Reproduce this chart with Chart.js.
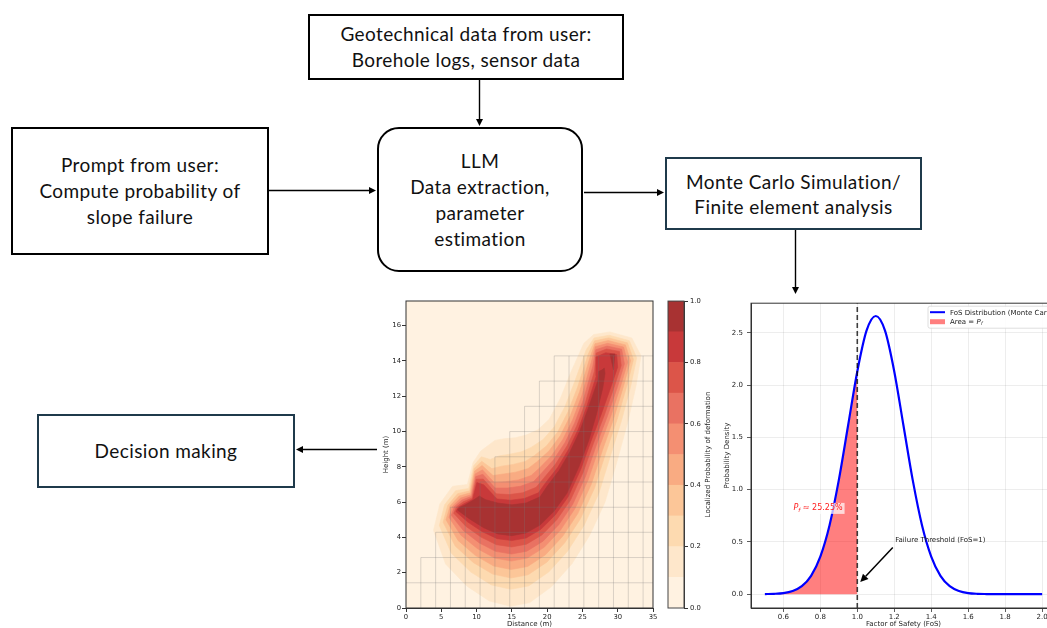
<!DOCTYPE html>
<html>
<head>
<meta charset="utf-8">
<script src="https://cdn.jsdelivr.net/npm/chart.js@4.4.0/dist/chart.umd.min.js"></script>
<style>
  html, body { margin: 0; padding: 0; background: #fff; }
  body { width: 1047px; height: 628px; overflow: hidden; position: relative; font-family: Lato, "Open Sans", sans-serif; }
  .box { position: absolute; box-sizing: border-box; border: 2px solid #000; display: flex; align-items: center; justify-content: center; text-align: center; font-size: 19px; letter-spacing: 0.4px; line-height: 26px; color: #111; }
  .dark { border-color: #1f3a4b; }
  .round { border-radius: 22px; }
  canvas.plot { position: absolute; }
  #arrows { position: absolute; left: 0; top: 0; pointer-events: none; }
</style>
</head>
<body>

<div class="box" style="left:308px;top:14px;width:316px;height:66px">Geotechnical data from user:<br>Borehole logs, sensor data</div>
<div class="box" style="left:11px;top:127px;width:258px;height:128px">Prompt from user:<br>Compute probability of<br>slope failure</div>
<div class="box round" style="left:377px;top:127px;width:206px;height:145px">LLM<br>Data extraction,<br>parameter<br>estimation</div>
<div class="box dark" style="left:665px;top:157px;width:257px;height:73px;line-height:25px">Monte Carlo Simulation/<br>Finite element analysis</div>
<div class="box dark" style="left:37px;top:414px;width:258px;height:74px">Decision making</div>

<canvas id="contour" class="plot" width="290" height="333" style="left:370px;top:295px"></canvas>
<canvas id="cbar" class="plot" width="60" height="333" style="left:660px;top:295px"></canvas>
<canvas id="fos" class="plot" width="345" height="333" style="left:720px;top:295px"></canvas>
<canvas id="arrows" width="1047" height="628"></canvas>

<script>
// ---- FoS distribution (right plot) ----
const fosX = [0.50, 0.55, 0.60, 0.65, 0.70, 0.75, 0.80, 0.85, 0.90, 0.95, 1.00, 1.05, 1.10, 1.15, 1.20, 1.25,
              1.30, 1.35, 1.40, 1.45, 1.50, 1.55, 1.60, 1.65, 1.70, 1.75, 1.80, 1.85, 1.90, 1.95, 2.00];
const fosDensity = [0.001, 0.003, 0.010, 0.030, 0.076, 0.175, 0.36, 0.66, 1.09, 1.61, 2.13, 2.52, 2.66, 2.52, 2.13, 1.61,
                    1.09, 0.66, 0.36, 0.175, 0.076, 0.030, 0.010, 0.003, 0.001, 0, 0, 0, 0, 0, 0];
const failureFoS = 1.0;
const probFailure = 25.25;
const fosXTicks = [0.6, 0.8, 1.0, 1.2, 1.4, 1.6, 1.8, 2.0];
const fosYTicks = [0, 0.5, 1.0, 1.5, 2.0, 2.5];

// ---- deformation contour (left plot), polygons [distance, height] ----
const distTicks = [0, 5, 10, 15, 20, 25, 30, 35];
const heightTicks = [0, 2, 4, 6, 8, 10, 12, 14, 16];
const levels = [0, 0.1, 0.2, 0.3, 0.4, 0.5, 0.6, 0.7, 0.8, 0.9, 1.0];
const cbarTicks = [0, 0.2, 0.4, 0.6, 0.8, 1.0];

const contourLevel1 = [[3.9,4.4],[5.6,2.5],[8.6,1.25],[11.8,0.4],[14.8,0.1],[17.5,0.3],[20.6,1.2],[23.5,2.5],[26,4.1],[28.2,6.0],[29.9,8.3],[31.4,10.5],[32.6,12.6],[33.3,14.3],[32.0,15.3],[28.9,15.65],[26.6,15.5],[25.2,15.0],[23.3,13.3],[21.9,11.9],[20.3,10.7],[18.7,10.1],[17.0,9.8],[15.5,9.65],[14.0,9.6],[12.6,9.5],[11.6,9.2],[10.6,8.9],[9.5,8.25],[8.7,7.0],[6.6,6.9],[4.8,5.9]];
const contourLevel2 = [[4.72,4.68],[6.42,3.11],[9.18,2.04],[12.09,1.31],[14.85,1.06],[17.38,1.25],[20.22,2.04],[22.9,3.22],[25.23,4.68],[27.31,6.48],[28.94,8.59],[30.52,10.6],[31.85,12.58],[32.69,14.18],[31.65,15.15],[28.8,15.46],[26.66,15.31],[25.54,14.64],[23.9,12.82],[22.55,11.44],[21.02,10.27],[19.42,9.55],[17.72,9.1],[16.34,8.85],[14.72,8.72],[13.18,8.62],[11.94,8.42],[10.67,8.57],[9.59,8.06],[8.89,6.78],[7.03,6.65],[5.47,5.85]];
const contourLevel3 = [[5.26,4.86],[6.96,3.52],[9.56,2.57],[12.28,1.92],[14.88,1.7],[17.3,1.88],[19.96,2.6],[22.5,3.7],[24.72,5.06],[26.72,6.8],[28.3,8.78],[29.9,10.67],[31.28,12.57],[32.23,14.09],[31.38,15.03],[28.72,15.31],[26.72,15.14],[25.8,14.37],[24.3,12.5],[22.98,11.14],[21.5,9.98],[19.9,9.18],[18.2,8.64],[16.9,8.31],[15.2,8.14],[13.56,8.04],[12.16,7.9],[10.73,8.32],[9.66,7.91],[9.02,6.64],[7.32,6.48],[5.92,5.82]];
const contourLevel4 = [[5.67,5.0],[7.37,3.83],[9.85,2.97],[12.42,2.38],[14.9,2.18],[17.24,2.35],[19.77,3.02],[22.2,4.06],[24.34,5.35],[26.28,7.04],[27.82,8.92],[29.42,10.73],[30.81,12.56],[31.82,14.01],[31.1,14.91],[28.65,15.16],[26.78,14.98],[26.02,14.14],[24.6,12.26],[23.3,10.91],[21.86,9.76],[20.26,8.9],[18.56,8.29],[17.32,7.91],[15.56,7.7],[13.85,7.6],[12.33,7.51],[10.78,8.08],[9.73,7.76],[9.12,6.53],[7.54,6.35],[6.26,5.8]];
const contourLevel5 = [[6.08,5.14],[7.78,4.13],[10.14,3.36],[12.57,2.83],[14.93,2.66],[17.18,2.83],[19.58,3.44],[21.9,4.42],[23.95,5.64],[25.83,7.28],[27.34,9.07],[28.94,10.78],[30.39,12.55],[31.41,13.93],[30.83,14.79],[28.57,15.0],[26.83,14.81],[26.24,13.91],[24.9,12.02],[23.63,10.68],[22.22,9.55],[20.62,8.63],[18.92,7.94],[17.74,7.51],[15.92,7.26],[14.14,7.16],[12.5,7.12],[10.83,7.83],[9.81,7.6],[9.21,6.42],[7.75,6.23],[6.59,5.77]];
const contourLevel6 = [[6.42,5.25],[8.12,4.39],[10.38,3.69],[12.69,3.21],[14.95,3.06],[17.13,3.22],[19.42,3.79],[21.65,4.72],[23.63,5.88],[25.46,7.48],[26.94,9.19],[28.5,10.83],[29.97,12.54],[30.95,13.84],[30.56,14.67],[28.49,14.85],[26.89,14.64],[26.46,13.68],[25.15,11.82],[23.9,10.49],[22.52,9.37],[20.92,8.4],[19.22,7.65],[18.09,7.17],[16.22,6.9],[14.38,6.8],[12.64,6.8],[10.89,7.58],[9.88,7.45],[9.29,6.33],[7.93,6.12],[6.87,5.75]];
const contourLevel7 = [[6.76,5.37],[8.46,4.64],[10.62,4.02],[12.81,3.59],[14.97,3.46],[17.08,3.62],[19.26,4.14],[21.4,5.02],[23.31,6.12],[25.09,7.68],[26.54,9.31],[28.06,10.88],[29.5,12.53],[30.5,13.75],[30.25,14.54],[28.41,14.68],[26.95,14.45],[26.7,13.43],[25.4,11.62],[24.17,10.3],[22.82,9.19],[21.22,8.17],[19.52,7.36],[18.44,6.84],[16.52,6.53],[14.62,6.43],[12.78,6.47],[10.95,7.31],[9.95,7.3],[9.37,6.24],[8.11,6.02],[7.15,5.73]];
const contourLevel8 = [[7.06,5.47],[8.76,4.87],[10.83,4.32],[12.92,3.93],[14.99,3.82],[17.04,3.97],[19.11,4.46],[21.18,5.29],[23.02,6.33],[24.76,7.86],[26.18,9.42],[27.62,10.93],[29.03,12.52],[29.99,13.65],[29.86,14.37],[28.3,14.47],[27.02,14.24],[26.96,13.15],[25.63,11.44],[24.41,10.13],[23.09,9.03],[21.49,7.96],[19.79,7.1],[18.76,6.53],[16.79,6.21],[14.83,6.11],[12.9,6.18],[11.02,6.98],[10.04,7.11],[9.44,6.16],[8.27,5.92],[7.4,5.71]];
const contourLevel9 = [[7.3,5.55],[9,5.05],[11,4.55],[13,4.2],[15,4.1],[17,4.25],[19,4.7],[21,5.5],[22.8,6.5],[24.5,8.0],[25.9,9.5],[27.0,11.0],[27.9,12.5],[28.2,13.3],[28.1,13.6],[27.8,13.5],[27.3,13.4],[27.2,12.9],[25.8,11.3],[24.6,10.0],[23.3,8.9],[21.7,7.8],[20.0,6.9],[19,6.3],[17,5.95],[15,5.85],[13,5.95],[11.2,6.15],[10.4,6.35],[9.5,6.1],[8.4,5.85],[7.6,5.7]];
const contourSpot9 = [[28.9,14.4],[29.6,14.4],[29.4,13.5]];

// slope mesh: vertical lines [x, top], horizontal lines [y, start x]
const meshVertical = [[2.1,2.86],[4.2,4.29],[6.3,5.71],[8.4,5.71],[10.5,7.14],[12.6,8.57],[14.7,10],[16.8,11.43],[18.9,12.86],[21,14.29],[23.1,14.29],[25.2,14.29],[27.3,14.29],[29.4,14.29],[31.5,14.29],[33.6,14.29]];
const meshHorizontal = [[1.43,0],[2.86,2.1],[4.29,4.2],[5.71,6.3],[7.14,10.5],[8.57,12.6],[10,14.7],[11.43,16.8],[12.86,18.9],[14.29,21]];

const bandColors = ['#fff2e1', '#fee7cb', '#fddab0', '#fcc698', '#f9ab82', '#f48f72', '#e97262', '#dc5549', '#c8393a', '#a83232'];

const tickFont = { family: 'DejaVu Sans', size: 6.8 };
const titleFont = { family: 'DejaVu Sans', size: 7 };
const fixTicks = arr => scale => { scale.ticks = arr.map(v => ({ value: v })); };

function frame(color) {
  return {
    id: 'frame',
    afterDatasetsDraw(chart) {
      const { ctx, chartArea: a } = chart;
      ctx.save();
      ctx.strokeStyle = color;
      ctx.lineWidth = 1;
      ctx.strokeRect(a.left, a.top, a.right - a.left, a.bottom - a.top);
      ctx.restore();
    }
  };
}

// ---------- contour chart ----------
const closeRing = pts => pts.concat([pts[0]]).map(p => ({ x: p[0], y: p[1] }));
const contourLevels = [contourLevel1, contourLevel2, contourLevel3, contourLevel4, contourLevel5,
                       contourLevel6, contourLevel7, contourLevel8, contourLevel9];

const polyDatasets = contourLevels.map((pts, i) => ({
  data: closeRing(pts),
  showLine: true, fill: 'shape', tension: 0,
  backgroundColor: bandColors[i + 1], borderColor: bandColors[i + 1], borderWidth: 0.6,
  pointRadius: 0, order: 30 - i
}));
polyDatasets.push({
  data: closeRing(contourSpot9), showLine: true, fill: 'shape', tension: 0,
  backgroundColor: bandColors[9], borderColor: bandColors[9], borderWidth: 0.6, pointRadius: 0, order: 10
});

const meshData = [];
meshVertical.forEach(([x, top]) => { meshData.push({ x, y: 0 }, { x, y: top }, { x, y: null }); });
meshHorizontal.forEach(([y, x0]) => { meshData.push({ x: x0, y }, { x: 35, y }, { x: 35, y: null }); });

const contourBg = {
  id: 'contourBg',
  beforeDatasetsDraw(chart) {
    const { ctx, chartArea: a } = chart;
    ctx.save();
    ctx.fillStyle = bandColors[0];
    ctx.fillRect(a.left, a.top, a.right - a.left, a.bottom - a.top);
    ctx.restore();
  }
};

new Chart(document.getElementById('contour'), {
  type: 'scatter',
  data: {
    datasets: polyDatasets.concat([{
      data: meshData, showLine: true, spanGaps: false, fill: false,
      borderColor: 'rgba(120,120,120,0.35)', borderWidth: 0.8, pointRadius: 0, order: 1
    }])
  },
  options: {
    responsive: false, animation: false, events: [],
    layout: { padding: { top: 6, right: 7, left: 0, bottom: 0 } },
    plugins: { legend: { display: false }, tooltip: { enabled: false } },
    scales: {
      x: {
        type: 'linear', min: 0, max: 35,
        afterBuildTicks: fixTicks(distTicks),
        afterFit: s => { s.height = 20; },
        grid: { drawOnChartArea: false, tickLength: 4, tickColor: '#333' },
        border: { color: '#333' },
        ticks: { font: tickFont, color: '#222', padding: 1, maxRotation: 0, autoSkip: false, callback: v => String(v) },
        title: { display: true, text: 'Distance (m)', font: titleFont, color: '#222', padding: { top: 0, bottom: 0 } }
      },
      y: {
        type: 'linear', min: 0, max: 17.4,
        afterBuildTicks: fixTicks(heightTicks),
        afterFit: s => { s.width = 36; },
        grid: { drawOnChartArea: false, tickLength: 4, tickColor: '#333' },
        border: { color: '#333' },
        ticks: { font: tickFont, color: '#222', padding: 1, autoSkip: false, callback: v => String(v) },
        title: { display: true, text: 'Height (m)', font: titleFont, color: '#222', padding: { top: 11.5, bottom: 0 } }
      }
    }
  },
  plugins: [contourBg, frame('#333')]
});

// ---------- colour bar ----------
const cbarTitle = {
  id: 'cbarTitle',
  afterDraw(chart) {
    const { ctx, chartArea: a } = chart;
    ctx.save();
    ctx.translate(a.right + 24, (a.top + a.bottom) / 2);
    ctx.rotate(-Math.PI / 2);
    ctx.font = '7px "DejaVu Sans"';
    ctx.fillStyle = '#222';
    ctx.textAlign = 'center';
    ctx.textBaseline = 'middle';
    ctx.fillText('Localized Probability of deformation', 0, 0);
    ctx.restore();
  }
};

new Chart(document.getElementById('cbar'), {
  type: 'bar',
  data: {
    labels: ['p'],
    datasets: levels.slice(0, -1).map((lv, i) => ({
      data: [[lv, levels[i + 1]]],
      backgroundColor: bandColors[i], borderWidth: 0,
      barPercentage: 1, categoryPercentage: 1, grouped: false
    }))
  },
  options: {
    responsive: false, animation: false, events: [],
    layout: { padding: { top: 6, left: 8, right: 0, bottom: 20 } },
    plugins: { legend: { display: false }, tooltip: { enabled: false } },
    scales: {
      x: { display: false },
      y: {
        position: 'right', min: 0, max: 1,
        afterBuildTicks: fixTicks(cbarTicks),
        afterFit: s => { s.width = 36; },
        grid: { drawOnChartArea: false, tickLength: 4, tickColor: '#333' },
        border: { color: '#333' },
        ticks: { font: tickFont, color: '#222', padding: 2, callback: v => v.toFixed(1) },
        title: { display: false }
      }
    }
  },
  plugins: [frame('#444'), cbarTitle]
});

// ---------- FoS distribution ----------
const curvePts = fosX.map((x, i) => ({ x, y: fosDensity[i] }));
const areaPts = curvePts.filter(p => p.x <= failureFoS + 1e-9);

const fosOverlay = {
  id: 'fosOverlay',
  afterDatasetsDraw(chart) {
    const { ctx, chartArea: a, scales: { x, y } } = chart;
    ctx.save();

    // P_f label
    const px = x.getPixelForValue(0.655), py = y.getPixelForValue(0.82);
    const rest = ' \u2248 ' + probFailure.toFixed(2) + '%';
    ctx.font = 'italic 8px "DejaVu Sans"';
    const wP = ctx.measureText('P').width;
    ctx.font = 'italic 5.5px "DejaVu Sans"';
    const wf = ctx.measureText('f').width;
    ctx.font = '8px "DejaVu Sans"';
    const wr = ctx.measureText(rest).width;
    ctx.fillStyle = 'rgba(255,255,255,0.7)';
    ctx.fillRect(px - 2, py - 5.5, wP + wf + wr + 4, 11);
    ctx.fillStyle = '#ff2020';
    ctx.textBaseline = 'middle';
    ctx.font = 'italic 8px "DejaVu Sans"';
    ctx.fillText('P', px, py);
    ctx.font = 'italic 5.5px "DejaVu Sans"';
    ctx.fillText('f', px + wP, py + 2);
    ctx.font = '8px "DejaVu Sans"';
    ctx.fillText(rest, px + wP + wf, py);

    // failure threshold annotation
    ctx.fillStyle = '#222';
    ctx.font = '7px "DejaVu Sans"';
    ctx.textBaseline = 'middle';
    ctx.fillText('Failure Threshold (FoS=1)', x.getPixelForValue(1.205), y.getPixelForValue(0.515));
    const tx = x.getPixelForValue(1.192), ty = y.getPixelForValue(0.447);
    const hx = x.getPixelForValue(1.016), hy = y.getPixelForValue(0.115);
    const ang = Math.atan2(hy - ty, hx - tx), hl = 8, hw = 3.8;
    ctx.strokeStyle = '#000'; ctx.fillStyle = '#000'; ctx.lineWidth = 1.5;
    ctx.beginPath();
    ctx.moveTo(tx, ty);
    ctx.lineTo(hx - hl * Math.cos(ang), hy - hl * Math.sin(ang));
    ctx.stroke();
    ctx.beginPath();
    ctx.moveTo(hx, hy);
    ctx.lineTo(hx - hl * Math.cos(ang) + hw * Math.sin(ang), hy - hl * Math.sin(ang) - hw * Math.cos(ang));
    ctx.lineTo(hx - hl * Math.cos(ang) - hw * Math.sin(ang), hy - hl * Math.sin(ang) + hw * Math.cos(ang));
    ctx.closePath();
    ctx.fill();

    // legend (upper right)
    const lx = a.right - 128, ly = a.top + 3;
    ctx.fillStyle = 'rgba(255,255,255,0.85)';
    ctx.strokeStyle = '#d6d6d6'; ctx.lineWidth = 0.8;
    ctx.beginPath();
    ctx.roundRect(lx, ly, 124, 22, 2);
    ctx.fill(); ctx.stroke();
    ctx.strokeStyle = '#0000ff'; ctx.lineWidth = 2;
    ctx.beginPath(); ctx.moveTo(lx + 2, ly + 6); ctx.lineTo(lx + 17, ly + 6); ctx.stroke();
    ctx.fillStyle = 'rgba(255,0,0,0.5)';
    ctx.fillRect(lx + 2, ly + 13, 15, 5);
    ctx.fillStyle = '#222';
    ctx.font = '7px "DejaVu Sans"';
    ctx.fillText('FoS Distribution (Monte Carlo)', lx + 22, ly + 6.5);
    ctx.fillText('Area = ', lx + 22, ly + 16);
    const wa = ctx.measureText('Area = ').width;
    ctx.font = 'italic 7px "DejaVu Sans"';
    ctx.fillText('P', lx + 22 + wa, ly + 16);
    ctx.font = 'italic 4.5px "DejaVu Sans"';
    ctx.fillText('f', lx + 22 + wa + 4.5, ly + 18);

    // spines
    ctx.strokeStyle = '#333'; ctx.lineWidth = 1;
    ctx.strokeRect(a.left, a.top, a.right - a.left, a.bottom - a.top);
    ctx.restore();
  }
};

new Chart(document.getElementById('fos'), {
  type: 'scatter',
  data: {
    datasets: [
      {
        data: [{ x: failureFoS, y: -0.1325 }, { x: failureFoS, y: 2.7825 }],
        showLine: true, borderColor: 'rgba(0,0,0,0.75)', borderDash: [5, 3], borderWidth: 1.6,
        pointRadius: 0, fill: false, order: 0
      },
      {
        data: curvePts, showLine: true, borderColor: '#0000ff', borderWidth: 2.2,
        pointRadius: 0, cubicInterpolationMode: 'monotone', fill: false, order: 1
      },
      {
        data: areaPts, showLine: true, borderColor: 'rgba(0,0,0,0)', borderWidth: 0,
        backgroundColor: 'rgba(255,0,0,0.5)', fill: 'origin',
        pointRadius: 0, cubicInterpolationMode: 'monotone', order: 2
      }
    ]
  },
  options: {
    responsive: false, animation: false, events: [],
    layout: { padding: { top: 6, right: 9, left: 0, bottom: 0 } },
    plugins: { legend: { display: false }, tooltip: { enabled: false } },
    scales: {
      x: {
        type: 'linear', min: 0.425, max: 2.075,
        afterBuildTicks: fixTicks(fosXTicks),
        afterFit: s => { s.height = 20; },
        grid: { color: 'rgba(0,0,0,0.09)', tickColor: '#333', tickLength: 4, lineWidth: 0.8 },
        border: { color: '#333' },
        ticks: { font: { family: 'DejaVu Sans', size: 7 }, color: '#222', padding: 1, maxRotation: 0, autoSkip: false, callback: v => v.toFixed(1) },
        title: { display: true, text: 'Factor of Safety (FoS)', font: titleFont, color: '#222', padding: { top: 0, bottom: 0 } }
      },
      y: {
        type: 'linear', min: -0.1325, max: 2.7825,
        afterBuildTicks: fixTicks(fosYTicks),
        afterFit: s => { s.width = 31; },
        grid: { color: 'rgba(0,0,0,0.09)', tickColor: '#333', tickLength: 4, lineWidth: 0.8 },
        border: { color: '#333' },
        ticks: { font: { family: 'DejaVu Sans', size: 7 }, color: '#222', padding: 4, autoSkip: false, callback: v => v.toFixed(1) },
        title: { display: true, text: 'Probability Density', font: titleFont, color: '#222', padding: { top: 3, bottom: 0 } }
      }
    }
  },
  plugins: [fosOverlay]
});

// ---------- flow arrows ----------
const dg = document.getElementById('arrows').getContext('2d');
function arrow(x1, y1, x2, y2) {
  const ang = Math.atan2(y2 - y1, x2 - x1), hl = 7, hw = 3.5;
  dg.strokeStyle = '#000'; dg.fillStyle = '#000'; dg.lineWidth = 1.4;
  dg.beginPath();
  dg.moveTo(x1, y1);
  dg.lineTo(x2 - hl * Math.cos(ang), y2 - hl * Math.sin(ang));
  dg.stroke();
  dg.beginPath();
  dg.moveTo(x2, y2);
  dg.lineTo(x2 - hl * Math.cos(ang) + hw * Math.sin(ang), y2 - hl * Math.sin(ang) - hw * Math.cos(ang));
  dg.lineTo(x2 - hl * Math.cos(ang) - hw * Math.sin(ang), y2 - hl * Math.sin(ang) + hw * Math.cos(ang));
  dg.closePath();
  dg.fill();
}
arrow(479.5, 80, 479.5, 126);
arrow(269, 190.5, 376, 190.5);
arrow(584, 192.5, 664, 192.5);
arrow(795.5, 230, 795.5, 294);
arrow(377, 449.5, 296, 449.5);
</script>
</body>
</html>
